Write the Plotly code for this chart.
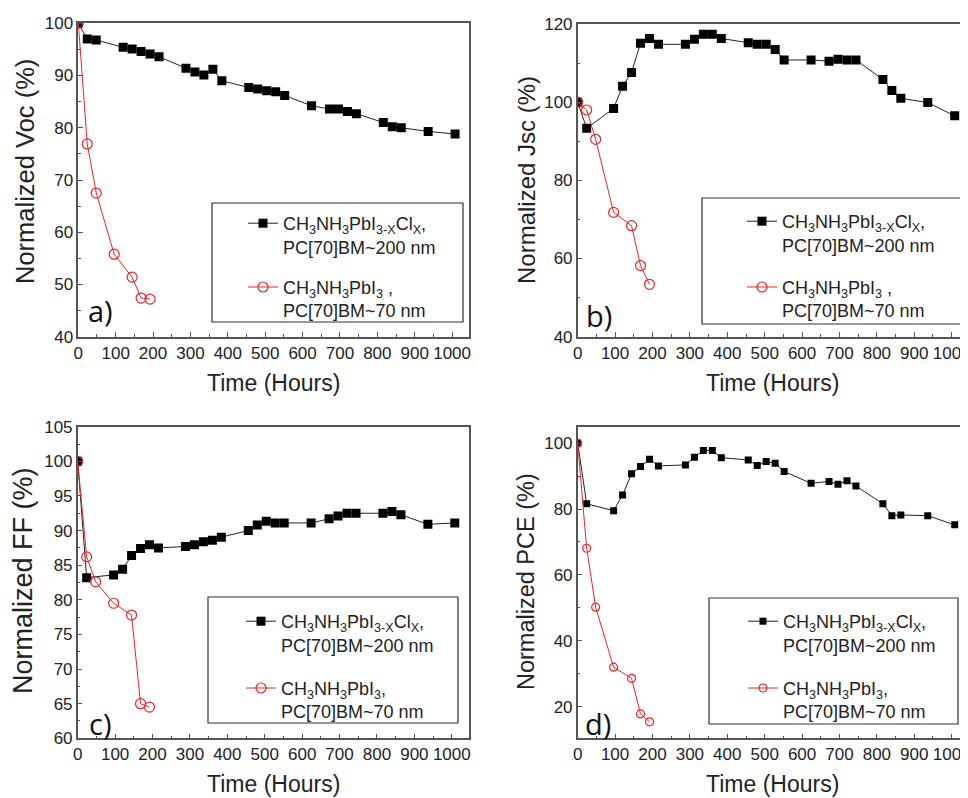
import plotly.graph_objects as go

# ---------------- data ----------------
t_blk_a = [0, 24, 48, 120, 144, 168, 192, 216, 288, 312, 336, 360, 384, 456, 480, 504, 528, 552,
           624, 672, 696, 720, 744, 816, 840, 864, 936, 1008]
voc_blk = [100, 97.0, 96.8, 95.4, 95.1, 94.6, 94.1, 93.6, 91.4, 90.7, 90.1, 91.2, 89.0, 87.7, 87.4,
           87.1, 86.9, 86.2, 84.2, 83.6, 83.6, 83.1, 82.7, 81.0, 80.2, 80.0, 79.3, 78.8]

t_blk = [0, 24, 96, 120, 144, 168, 192, 216, 288, 312, 336, 360, 384, 456, 480, 504, 528, 552,
         624, 672, 696, 720, 744, 816, 840, 864, 936, 1008]
jsc_blk = [100, 93.3, 98.4, 104.1, 107.6, 115.1, 116.3, 114.8, 114.8, 116.1, 117.4, 117.4, 116.3,
           115.2, 114.8, 114.8, 113.5, 110.8, 110.8, 110.5, 111.0, 110.8, 110.8, 105.8, 103.0,
           101.0, 99.9, 96.5]
ff_blk = [100, 83.2, 83.6, 84.4, 86.4, 87.4, 87.95, 87.5, 87.7, 87.95, 88.4, 88.6, 89.05, 90.0,
          90.8, 91.35, 91.1, 91.1, 91.1, 91.7, 92.1, 92.5, 92.5, 92.5, 92.75, 92.3, 90.9, 91.1]
pce_blk = [100, 81.6, 79.5, 84.3, 90.7, 92.9, 95.1, 93.1, 93.4, 95.7, 97.8, 97.8, 95.6, 94.9,
           93.2, 94.4, 93.9, 91.4, 87.8, 88.4, 87.5, 88.6, 87.0, 81.6, 78.0, 78.2, 78.0, 75.2]

t_red = [0, 24, 48, 96, 144, 168, 192]
voc_red = [100, 76.9, 67.5, 55.8, 51.4, 47.4, 47.2]
jsc_red = [100, 98.0, 90.5, 71.8, 68.4, 58.2, 53.4]
ff_red = [100, 86.2, 82.6, 79.5, 77.8, 65.0, 64.5]
pce_red = [100, 68.1, 50.2, 32.0, 28.6, 17.8, 15.4]

name_blk = "CH<sub>3</sub>NH<sub>3</sub>PbI<sub>3-X</sub>Cl<sub>X</sub>,<br>PC[70]BM~200 nm"
name_red_ab = "CH<sub>3</sub>NH<sub>3</sub>PbI<sub>3</sub> ,<br>PC[70]BM~70 nm"
name_red_cd = "CH<sub>3</sub>NH<sub>3</sub>PbI<sub>3</sub>,<br>PC[70]BM~70 nm"

y_titles = ["Normalized Voc (%)", "Normalized Jsc (%)", "Normalized FF (%)", "Normalized PCE (%)"]
panel_tags = ["a)", "b)", "c)", "d)"]
x_title = "Time (Hours)"

# ---------------- layout helpers ----------------
# The page body has an 8 px default margin, so the figure is drawn 8 px smaller
# and all reference pixel positions are shifted by that offset.
OFF = 8
W, H = 968 - OFF, 798 - OFF
FONT = "Liberation Sans, Arial, sans-serif"
BLK = "#000000"
LINE_BLK = "#222222"
RED = "#e8262b"


def px_x(p):
    return (p - OFF) / W


def px_y(p):
    return 1 - (p - OFF) / H


panels = [
    dict(xd=(78.3, 469.3), yd=(23.3, 336.7), xr=(0, 1046), yr=(40, 100), dt=10, mdt=5, ms=9, rs=10, tfs=25.5),
    dict(xd=(577.7, 968), yd=(24, 336.7), xr=(0, 1043.6), yr=(40, 120), dt=20, mdt=10, ms=9, rs=10, tfs=24),
    dict(xd=(77.7, 469.0), yd=(426.7, 738.3), xr=(0, 1046), yr=(60, 105), dt=5, mdt=2.5, ms=9, rs=10, tfs=27),
    dict(xd=(577.7, 968), yd=(426.7, 738.3), xr=(0, 1043.6), yr=(10.4, 105), dt=20, mdt=10, ms=7, rs=8, tfs=23.5),
]

blk_sets = [(t_blk_a, voc_blk), (t_blk, jsc_blk), (t_blk, ff_blk), (t_blk, pce_blk)]
red_sets = [(t_red, voc_red), (t_red, jsc_red), (t_red, ff_red), (t_red, pce_red)]
name_red_list = [name_red_ab, name_red_ab, name_red_cd, name_red_cd]

leg_boxes = [
    (212, 203, 463, 322),
    (702, 198, 961, 324),
    (208, 597, 458, 723),
    (709, 598, 958, 724),
]
leg_pos = [(243, 205), (742, 203), (241, 603), (743, 603)]
leg_gap = [14, 16, 17, 17]
tag_pos = [(86, 310), (584, 315), (87, 723), (583, 723)]
ytitle_pos = [(25, 172), (526, 180), (23, 581), (526, 582)]

fig = go.Figure()
shapes = []
annotations = []

for i, p in enumerate(panels):
    ax = "" if i == 0 else str(i + 1)
    xa, ya = "x" + ax, "y" + ax
    lg = "legend" if i == 0 else "legend" + str(i + 1)
    tb, vb = blk_sets[i]
    tr, vr = red_sets[i]
    fig.add_trace(go.Scatter(
        x=tb, y=vb, mode="lines+markers", name=name_blk, xaxis=xa, yaxis=ya, legend=lg,
        legendgroup="b" + str(i),
        line=dict(color=LINE_BLK, width=1),
        marker=dict(symbol="square", size=p["ms"], color=BLK, line=dict(width=0))))
    fig.add_trace(go.Scatter(
        x=tr, y=vr, mode="lines+markers", name=name_red_list[i], xaxis=xa, yaxis=ya, legend=lg,
        legendgroup="r" + str(i),
        line=dict(color=RED, width=1),
        marker=dict(symbol="circle-open", size=p["rs"], color=RED, line=dict(width=1.2, color=RED))))

    axis_common = dict(showgrid=False, zeroline=False, showline=True, linecolor="#555555",
                       linewidth=1.5, mirror=True, ticks="inside", ticklen=5, tickwidth=1,
                       tickcolor="#555555", automargin=False, ticklabeloverflow="allow",
                       tickfont=dict(family=FONT, size=17, color="#222222"))
    xaxis = dict(domain=[px_x(p["xd"][0]), min(1.0, px_x(p["xd"][1]))], range=list(p["xr"]),
                 tick0=0, dtick=100, anchor=ya,
                 minor=dict(ticks="inside", ticklen=3, dtick=50, tick0=0, tickcolor="#555555"),
                 **axis_common)
    yaxis = dict(domain=[px_y(p["yd"][1]), px_y(p["yd"][0])], range=list(p["yr"]),
                 tick0=0, dtick=p["dt"], anchor=xa,
                 minor=dict(ticks="inside", ticklen=3, dtick=p["mdt"], tick0=0, tickcolor="#555555"),
                 **axis_common)
    fig.update_layout(**{"xaxis" + ax: xaxis, "yaxis" + ax: yaxis})

    lx, ly = leg_pos[i]
    fig.update_layout(**{lg: dict(
        x=px_x(lx), y=px_y(ly), xanchor="left", yanchor="top", xref="paper", yref="paper",
        bgcolor="rgba(255,255,255,0)", borderwidth=0, valign="top",
        traceorder="grouped", tracegroupgap=leg_gap[i],
        font=dict(family=FONT, size=18, color="#222222"))})

    bx0, by0, bx1, by1 = leg_boxes[i]
    shapes.append(dict(type="rect", xref="paper", yref="paper",
                       x0=px_x(bx0), x1=px_x(bx1), y0=px_y(by1), y1=px_y(by0),
                       line=dict(color="#333333", width=1.2), fillcolor="rgba(0,0,0,0)"))

    cx = (p["xd"][0] + p["xd"][1]) / 2
    if i % 2 == 1:
        cx = (577.7 + 577.7 + 390.3) / 2
    annotations.append(dict(text=x_title, xref="paper", yref="paper", x=px_x(cx),
                            y=px_y(p["yd"][1] + 46), xanchor="center", yanchor="middle",
                            showarrow=False, font=dict(family=FONT, size=23, color="#222222")))
    ycx, ycy = ytitle_pos[i]
    annotations.append(dict(text=y_titles[i], xref="paper", yref="paper", x=px_x(ycx),
                            y=px_y(ycy), xanchor="center", yanchor="middle", textangle=-90,
                            showarrow=False,
                            font=dict(family=FONT, size=p["tfs"], color="#222222")))
    tx, ty = tag_pos[i]
    annotations.append(dict(text=panel_tags[i], xref="paper", yref="paper", x=px_x(tx),
                            y=px_y(ty), xanchor="left", yanchor="middle", showarrow=False,
                            font=dict(family="Open Sans, Noto Sans, sans-serif", size=29,
                                      color="#111111")))

fig.update_layout(width=W, height=H, margin=dict(l=0, r=0, t=0, b=0, autoexpand=False),
                  paper_bgcolor="white", plot_bgcolor="white",
                  shapes=shapes, annotations=annotations, showlegend=True)

fig.write_html("out.html")
